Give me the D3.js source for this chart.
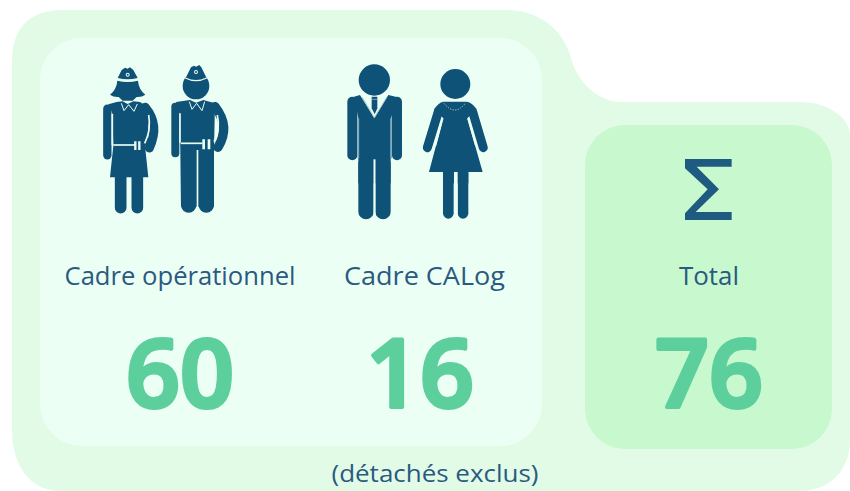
<!DOCTYPE html>
<html>
<head>
<meta charset="utf-8">
<script src="https://cdn.jsdelivr.net/npm/d3@7"></script>
<style>
html, body { margin: 0; padding: 0; background: #fff; overflow: hidden; }
text { font-family: "Open Sans", "Noto Sans", sans-serif; }
</style>
</head>
<body>
<script>
// Data
var categories = ["Cadre opérationnel", "Cadre CALog", "Total"];
var values = [60, 16, 76];
var footnote = "(détachés exclus)";

var width = 850, height = 491;
var iconColor = "#0f5277", textColor = "#2a5a80", numColor = "#5ccf9c";
var outerBg = "#e2fbe6", leftBg = "#ecfff4", rightBg = "#c8f8cd";

var labelX = d3.scaleOrdinal().domain(categories).range([180, 424.5, 709]);
var numX = d3.scaleOrdinal().domain(categories).range([180, 420, 709]);
var labelLen = d3.scaleOrdinal().domain(categories).range([231, 161, 60]);

var svg = d3.select("body").append("svg")
    .attr("width", width)
    .attr("height", height);

// Background blob
svg.append("path")
    .attr("d", "M12,62 Q12,10 64,10 L505,10 C540,10 565,30 572,62 C580,85 600,102 622,102 L800,102 C828,102 850,118 850,135 L850,440 C850,470 830,491 800,491 L60,491 C30,491 12,465 12,430 Z")
    .attr("fill", outerBg);

svg.append("rect").attr("x", 40).attr("y", 38).attr("width", 502).attr("height", 408)
    .attr("rx", 42).attr("ry", 42).attr("fill", leftBg);
svg.append("rect").attr("x", 585).attr("y", 125).attr("width", 247).attr("height", 324)
    .attr("rx", 40).attr("ry", 40).attr("fill", rightBg);

// Icons, drawn in a 3x local space
function icon(x, y) {
  return svg.append("g").attr("transform", "translate(" + x + "," + y + ") scale(0.3333)");
}
function fillP(g, d, c) { return g.append("path").attr("d", d).attr("fill", c || iconColor); }
function line(g, d, w, c, cap) {
  return g.append("path").attr("d", d).attr("fill", "none")
    .attr("stroke", c || iconColor).attr("stroke-width", w)
    .attr("stroke-linecap", cap || "round").attr("stroke-linejoin", "round");
}

var police = icon(80, 50);
// policewoman
fillP(police, "M113,84 L125,60 L135,53 L143,56 L150,52 L160,60 L173,84 Q143,92 113,84Z");
fillP(police, "M112,92 Q143,100 174,92 Q176,118 196,134 Q186,142 170,141 L158,152 L128,152 L116,141 Q100,142 90,134 Q110,118 112,92Z");
police.append("circle").attr("cx", 143).attr("cy", 74).attr("r", 6).attr("fill", leftBg);
police.append("circle").attr("cx", 143).attr("cy", 74).attr("r", 3).attr("fill", iconColor);
line(police, "M82,176 L82,316", 25);
fillP(police, "M85,163 L110,156 L128,154 L143,162 L160,154 L180,156 L205,172 L205,287 L195,287 L205,382 L90,382 L100,287 L97,190Z");
line(police, "M196,172 Q240,225 208,294", 27);
line(police, "M122,375 L122,473", 35);
line(police, "M172,375 L172,473", 35);
line(police, "M97,192 L97,285", 5, leftBg, "butt");
line(police, "M206,195 Q214,240 194,280", 5, leftBg, "butt");
line(police, "M100,285 L165,285", 5, leftBg, "butt");
line(police, "M166,274 V300 M178,274 V300", 7, leftBg, "butt");
line(police, "M124,160 L132,182 L146,164 L162,184 L172,162", 3, leftBg, "butt");

// policeman
police.append("circle").attr("cx", 348).attr("cy", 108).attr("r", 40).attr("fill", iconColor);
police.append("path").attr("d", "M316,84 Q348,100 380,84").attr("fill", "none").attr("stroke", leftBg).attr("stroke-width", 4);
fillP(police, "M319,80 L333,52 L342,47 L348,50 L358,45 L364,52 L378,80 Q348,92 319,80Z");
police.append("circle").attr("cx", 348).attr("cy", 66).attr("r", 6).attr("fill", leftBg);
police.append("circle").attr("cx", 348).attr("cy", 66).attr("r", 3).attr("fill", iconColor);
line(police, "M286,170 L286,310", 24);
fillP(police, "M288,156 L330,150 L348,158 L370,150 L405,160 L402,300 L402,470 L303,470 L301,300 L298,190Z");
line(police, "M405,170 Q452,230 414,292", 28);
line(police, "M326,310 L326,465", 46);
line(police, "M379,310 L379,465", 46);
line(police, "M352.5,300 L352.5,487", 5, leftBg, "butt");
line(police, "M300,190 L300,278", 5, leftBg, "butt");
line(police, "M412,195 Q422,240 402,275", 5, leftBg, "butt");
line(police, "M302,280 L368,280", 5, leftBg, "butt");
line(police, "M371,268 V298 M387,268 V298", 8, leftBg, "butt");
line(police, "M328,155 L336,178 L350,160 L366,182 L374,155", 3, leftBg, "butt");

var civil = icon(330, 50);
// man in suit
civil.append("circle").attr("cx", 133).attr("cy", 90).attr("r", 47).attr("fill", iconColor);
line(civil, "M67,155 L67,316", 30);
line(civil, "M201,155 L201,316", 30);
fillP(civil, "M72,140 L90,135 L133,205 L175,135 L197,140 L184,205 L184,325 L85,325 L85,205Z");
line(civil, "M108,340 L108,485", 46);
line(civil, "M159,340 L159,485", 46);
fillP(civil, "M85,320 H182 V400 H85Z");
line(civil, "M133.5,328 L133.5,506", 6, leftBg, "butt");
line(civil, "M85,205 L85,325", 5, "#7fa8ba", "butt");
line(civil, "M183,205 L183,325", 5, "#7fa8ba", "butt");
fillP(civil, "M125,140 H142 L142,175 L134,193 L125,175Z");
line(civil, "M125,148 H142", 2, "#a9c5cf", "butt");
line(civil, "M97,142 L133,203 L170,142", 3, "#a9c5cf", "butt");

// woman
civil.append("circle").attr("cx", 376).attr("cy", 102).attr("r", 45).attr("fill", iconColor);
line(civil, "M325,185 L292,293", 27);
line(civil, "M428,185 L460,293", 27);
fillP(civil, "M340,155 L410,155 Q428,158 440,178 L412,205 L458,366 L297,366 L340,205 L312,178 Q325,158 340,155Z");
line(civil, "M355,370 L355,490", 32);
line(civil, "M399,370 L399,490", 32);
fillP(civil, "M339,360 H415 V400 H339Z");
civil.append("rect").attr("x", 372).attr("y", 366).attr("width", 11).attr("height", 140).attr("fill", leftBg);
line(civil, "M338,205 L316,288", 5, leftBg, "butt");
line(civil, "M414,205 L438,288", 5, leftBg, "butt");
line(civil, "M342,160 Q375,200 406,160", 3, "#a9c5cf", "butt").attr("stroke-dasharray", "4 4");

// Sigma
var sigma = icon(530, 0);
fillP(sigma, "M465,477 H605 V500 H500 L567,568 L497,636 H605 V660 H465 V640 L533,568 L465,505Z", "#1f5a80");

// Labels and numbers
var rows = categories.map(function(d, i) { return { name: d, value: values[i] }; });

svg.selectAll("text.label").data(rows).enter().append("text")
    .attr("class", "label")
    .attr("x", function(d) { return labelX(d.name); })
    .attr("y", 285)
    .attr("text-anchor", "middle")
    .attr("font-size", 25)
    .attr("textLength", function(d) { return labelLen(d.name); })
    .attr("lengthAdjust", "spacingAndGlyphs")
    .attr("fill", textColor)
    .text(function(d) { return d.name; });

svg.selectAll("text.num").data(rows).enter().append("text")
    .attr("class", "num")
    .attr("x", function(d) { return numX(d.name); })
    .attr("y", 407)
    .attr("text-anchor", "middle")
    .attr("font-size", 94)
    .attr("font-weight", 600)
    .attr("textLength", 108)
    .attr("lengthAdjust", "spacingAndGlyphs")
    .attr("fill", numColor)
    .attr("stroke", numColor)
    .attr("stroke-width", 4)
    .attr("stroke-linejoin", "round")
    .text(function(d) { return d.value; });

svg.append("text")
    .attr("x", 435)
    .attr("y", 482)
    .attr("text-anchor", "middle")
    .attr("font-size", 24)
    .attr("textLength", 207)
    .attr("lengthAdjust", "spacingAndGlyphs")
    .attr("fill", textColor)
    .text(footnote);
</script>
</body>
</html>
